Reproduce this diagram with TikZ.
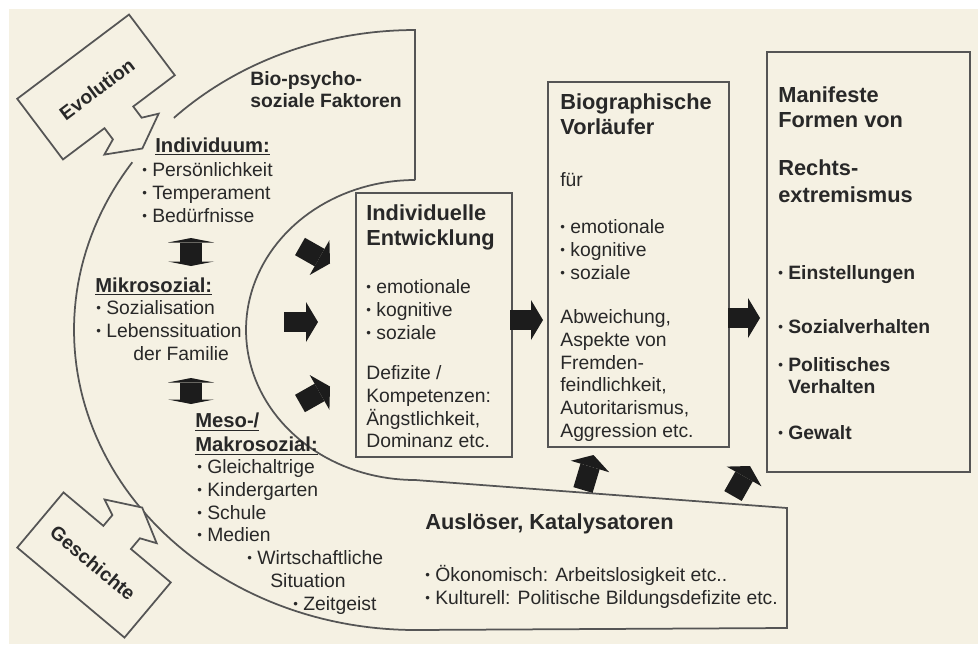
\documentclass[tikz,border=0pt]{standalone}
\usepackage{fontspec}
\setmainfont{Liberation Sans}
\usetikzlibrary{arrows.meta, calc}

\definecolor{paper}{RGB}{245,241,227}
\definecolor{ink}{RGB}{40,40,40}
\definecolor{edge}{RGB}{85,85,85}
\definecolor{arrowblack}{RGB}{28,28,28}

\newcommand{\bl}{\raisebox{0.2ex}{\fontsize{7.5}{7.5}\selectfont\textbullet}\ }

\begin{document}
\begin{tikzpicture}[x=0.2mm, y=-0.2mm,
bandline/.style={draw=edge, line width=0.35mm},
box/.style={rectangle, draw=edge, line width=0.35mm, inner sep=0pt, outer sep=0pt},
notch/.style={draw=edge, line width=0.35mm, fill=paper, line join=miter},
txt/.style={text=ink, align=left, anchor=north west, inner sep=0pt, font=\fontsize{11}{13}\selectfont},
bold/.style={txt, font=\fontsize{11}{12.5}\selectfont\bfseries},
subhead/.style={txt, font=\fontsize{11.5}{14.2}\selectfont\bfseries},
head/.style={txt, font=\fontsize{12.4}{14.2}\selectfont\bfseries},
fatarrow/.style={draw=arrowblack, line width=4mm, -{Triangle[length=2.4mm, width=8mm, line width=0pt]}},
spool/.style={draw=arrowblack, line width=4.4mm, {Triangle[length=0.9mm, width=9.2mm, line width=0pt]}-{Triangle[length=0.9mm, width=9.2mm, line width=0pt]}},
]

\fill[white] (0,0) rectangle (978,644);
\fill[paper] (9,9) rectangle (978,644);
\useasboundingbox (0,0) rectangle (978,644);

% band
\draw[bandline] (415,180) -- (415,30) -- plot[domain=90:135, samples=40] ({415+341*cos(\x)}, {330-300*sin(\x)});
\draw[bandline] plot[domain=146:270, samples=80] ({415+341*cos(\x)}, {330-300*sin(\x)})
  -- (787,628) -- (787,508) -- (415,480)
  -- plot[domain=-90:90, samples=80] ({415-169*cos(\x)}, {330-150*sin(\x)});

% Evolution / Geschichte
\begin{scope}[shift={(96,87)}, rotate=37]
\draw[notch] (-70,-38) -- (70,-38) -- (70,38) -- (18,38) -- (18,52) -- (34,59) -- (0,77)
  -- (-34,59) -- (-18,52) -- (-18,38) -- (-70,38) -- cycle;
\end{scope}
\begin{scope}[shift={(94,565)}, rotate=140]
\draw[notch] (-70,-36) -- (70,-36) -- (70,36) -- (18,36) -- (18,50) -- (34,57) -- (0,75)
  -- (-34,57) -- (-18,50) -- (-18,36) -- (-70,36) -- cycle;
\end{scope}
\node[bold, anchor=center, rotate=37] (evo) at (97,89) {Evolution};
\node[bold, anchor=center, rotate=-40] (gesch) at (93,563) {Geschichte};

% boxes
\node[box, minimum width=31.2mm, minimum height=52.8mm] (entw) at (434,325) {};
\node[box, minimum width=36.2mm, minimum height=73mm] (vorl) at (638.5,264.5) {};
\node[box, minimum width=40.6mm, minimum height=84mm] (rex) at (868.5,262) {};

% band texts
\node[bold] (bio) at (250,71) {Bio-psycho-\\soziale Faktoren};
\node[subhead] (ind) at (155,137) {\underline{Individuum:}};
\node[txt] (indl) at (142,162) {\bl Persönlichkeit\\\bl Temperament\\\bl Bedürfnisse};
\node[subhead] (mikro) at (95,277) {\underline{Mikrosozial:}};
\node[txt] (mikrol) at (96,300) {\bl Sozialisation\\\bl Lebenssituation\\\hspace*{7.4mm}der Familie};
\node[subhead] (meso) at (195,412) {\underline{Meso-/}\\\underline{Makrosozial:}};
\node[txt] (mesol) at (197,459) {\bl Gleichaltrige\\\bl Kindergarten\\\bl Schule\\\bl Medien\\\hspace*{10mm}\bl Wirtschaftliche\\\hspace*{14.6mm}Situation\\\hspace*{19.2mm}\bl Zeitgeist};

% box texts
\node[head] (entwh) at (366,204) {Individuelle\\Entwicklung};
\node[txt] (entwl) at (366,279) {\bl emotionale\\\bl kognitive\\\bl soziale};
\node[txt] (entwd) at (366,365) {Defizite /\\Kompetenzen:\\Ängstlichkeit,\\Dominanz etc.};

\node[head] (vorlh) at (560,93) {Biographische\\Vorläufer};
\node[txt] (fuer) at (560,172) {für};
\node[txt] (vorll) at (560,219) {\bl emotionale\\\bl kognitive\\\bl soziale};
\node[txt] (vorla) at (560,309) {Abweichung,\\Aspekte von\\Fremden-\\feindlichkeit,\\Autoritarismus,\\Aggression etc.};

\node[head] (rexh) at (778,86) {Manifeste\\Formen von};
\node[head, font=\fontsize{12.4}{15.5}\selectfont\bfseries] (rexr) at (778,159) {Rechts-\\extremismus};
\node[bold] (einst) at (778,265) {\bl Einstellungen};
\node[bold] (sozv) at (778,319) {\bl Sozialverhalten};
\node[bold] (polv) at (778,357) {\bl Politisches\\\phantom{\bl}Verhalten};
\node[bold] (gew) at (778,425) {\bl Gewalt};

\node[head] (ausl) at (425,513) {Auslöser, Katalysatoren};
\node[txt] (ausll) at (425,565) {\bl Ökonomisch: Arbeitslosigkeit etc..\\\bl Kulturell: Politische Bildungsdefizite etc.};

% arrows
\coordinate (s1a) at (191,238);
\coordinate (s1b) at (191,266);
\coordinate (s2a) at (191,378);
\coordinate (s2b) at (191,404);
\draw[spool] (s1a) -- (s1b);
\draw[spool] (s2a) -- (s2b);

\coordinate (l1) at (300,246.5);
\coordinate (l2) at (284,322);
\coordinate (l3) at (300,403.5);
\draw[fatarrow] (l1) -- ($(entw.west)+(-26,-61.5)$);
\draw[fatarrow] (l2) -- ($(entw.west)+(-38,-3)$);
\draw[fatarrow] (l3) -- ($(entw.west)+(-26,61.5)$);

\draw[fatarrow] ($(entw.east)+(-2,-5)$) -- ($(entw.east -| vorl.west)+(-5,-5)$);
\draw[fatarrow] ($(vorl.east)+(-1,53.5)$) -- ($(vorl.east -| rex.west)+(-7,53.5)$);

\coordinate (k1) at (583,490);
\coordinate (k2) at (733,496);
\draw[fatarrow] (k1) -- ($(vorl.south)+(-45,8)$);
\draw[fatarrow] (k2) -- ($(rex.south west)+(-17,-6)$);

\end{tikzpicture}
\end{document}
